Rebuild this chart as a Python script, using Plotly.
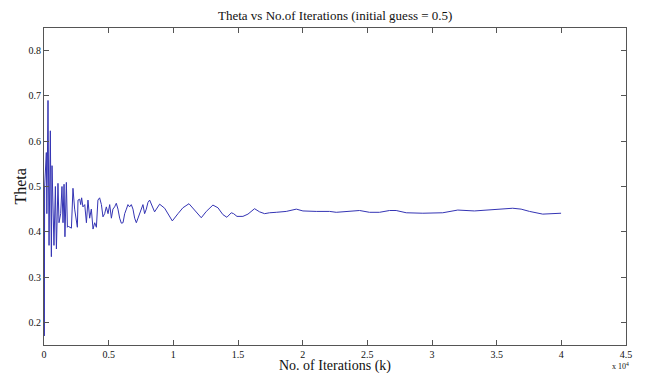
import plotly.graph_objects as go

# iterations in units of 1e4
iterations = [0.000, 0.002, 0.005, 0.018, 0.022, 0.031, 0.035, 0.039, 0.049, 0.057,
              0.062, 0.070, 0.077, 0.088, 0.096, 0.108, 0.116, 0.129, 0.139, 0.147,
              0.155, 0.162, 0.173, 0.181, 0.188, 0.212, 0.224, 0.237, 0.250, 0.258,
              0.263, 0.276, 0.284, 0.291, 0.301, 0.315, 0.328, 0.340, 0.353, 0.366,
              0.379, 0.392, 0.405, 0.417, 0.430, 0.444, 0.456, 0.469, 0.482, 0.495,
              0.508, 0.521, 0.533, 0.546, 0.559, 0.572, 0.585, 0.598, 0.611, 0.624,
              0.637, 0.649, 0.662, 0.675, 0.688, 0.701, 0.714, 0.726, 0.740, 0.753,
              0.765, 0.778, 0.791, 0.804, 0.817, 0.855, 0.894, 0.933, 0.992, 1.036,
              1.074, 1.121, 1.165, 1.216, 1.255, 1.306, 1.345, 1.383, 1.414, 1.448,
              1.466, 1.492, 1.538, 1.577, 1.628, 1.667, 1.706, 1.744, 1.796, 1.873,
              1.951, 2.002, 2.105, 2.208, 2.260, 2.362, 2.440, 2.517, 2.594, 2.672,
              2.723, 2.801, 2.929, 3.083, 3.199, 3.328, 3.419, 3.522, 3.624, 3.689,
              3.754, 3.856, 3.934, 3.998]
theta = [0.500, 0.170, 0.500, 0.575, 0.440, 0.690, 0.420, 0.370, 0.623, 0.345,
         0.546, 0.470, 0.370, 0.500, 0.362, 0.507, 0.420, 0.440, 0.500, 0.420,
         0.505, 0.389, 0.509, 0.410, 0.412, 0.408, 0.496, 0.450, 0.420, 0.410,
         0.470, 0.472, 0.460, 0.475, 0.455, 0.460, 0.420, 0.470, 0.430, 0.450,
         0.406, 0.420, 0.410, 0.470, 0.475, 0.460, 0.433, 0.440, 0.455, 0.440,
         0.460, 0.430, 0.450, 0.455, 0.463, 0.450, 0.430, 0.419, 0.420, 0.440,
         0.450, 0.460, 0.455, 0.460, 0.450, 0.430, 0.420, 0.430, 0.440, 0.455,
         0.460, 0.440, 0.450, 0.465, 0.470, 0.444, 0.461, 0.452, 0.424, 0.440,
         0.453, 0.462, 0.448, 0.431, 0.445, 0.459, 0.453, 0.438, 0.432, 0.442,
         0.440, 0.434, 0.434, 0.439, 0.451, 0.444, 0.440, 0.442, 0.443, 0.445,
         0.450, 0.446, 0.445, 0.445, 0.443, 0.445, 0.447, 0.443, 0.443, 0.447,
         0.447, 0.442, 0.441, 0.442, 0.448, 0.446, 0.448, 0.451, 0.452, 0.450,
         0.445, 0.439, 0.441, 0.441]

x_ticks = [0, 0.5, 1, 1.5, 2, 2.5, 3, 3.5, 4, 4.5]
x_tick_labels = ["0", "0.5", "1", "1.5", "2", "2.5", "3", "3.5", "4", "4.5"]
y_ticks = [0.2, 0.3, 0.4, 0.5, 0.6, 0.7, 0.8]
y_tick_labels = ["0.2", "0.3", "0.4", "0.5", "0.6", "0.7", "0.8"]

serif = "Liberation Serif, Times New Roman, serif"

fig = go.Figure()
fig.add_trace(go.Scatter(x=iterations, y=theta, mode="lines",
                         line=dict(color="#3434b4", width=1), showlegend=False))

axis_common = dict(showline=True, linecolor="#555555", linewidth=1, mirror="ticks",
                   ticks="inside", ticklen=5, tickcolor="#555555", showgrid=False,
                   zeroline=False, tickfont=dict(family=serif, size=10, color="#111111"))

# page body has an 8px default margin, so the figure is sized 8px smaller
fig.update_layout(
    width=649, height=365,
    margin=dict(l=36, r=31, t=20, b=28),
    paper_bgcolor="white", plot_bgcolor="white",
    xaxis=dict(range=[0, 4.5], tickvals=x_ticks, ticktext=x_tick_labels, **axis_common),
    yaxis=dict(range=[0.15, 0.85], tickvals=y_ticks, ticktext=y_tick_labels, **axis_common),
    annotations=[
        dict(text="Theta vs No.of Iterations (initial guess = 0.5)", xref="paper", yref="paper",
             x=0.5, y=1, yshift=13, xanchor="center", yanchor="middle", showarrow=False,
             font=dict(family=serif, size=13, color="#111111")),
        dict(text="No. of Iterations (k)", xref="paper", yref="paper",
             x=0.5, y=0, yshift=-21, xanchor="center", yanchor="middle", showarrow=False,
             font=dict(family=serif, size=14, color="#111111")),
        dict(text="Theta", xref="paper", yref="paper", textangle=-90,
             x=0, y=0.5, xshift=-24, xanchor="center", yanchor="middle", showarrow=False,
             font=dict(family=serif, size=16, color="#111111")),
        dict(text="x 10<sup>4</sup>", xref="paper", yref="paper",
             x=1, y=0, xshift=5, yshift=-21, xanchor="right", yanchor="middle", showarrow=False,
             font=dict(family=serif, size=8, color="#111111")),
    ],
)

fig.write_html("out.html")
